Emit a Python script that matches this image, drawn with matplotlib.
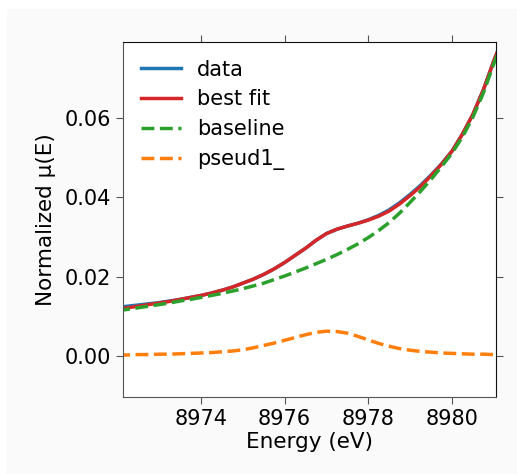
import matplotlib
matplotlib.use("Agg")
import matplotlib.pyplot as plt
from matplotlib.patches import Rectangle

# Energy grid (eV)
energy = [8972.00, 8972.25, 8972.50, 8972.75, 8973.00, 8973.25, 8973.50, 8973.75,
          8974.00, 8974.25, 8974.50, 8974.75, 8975.00, 8975.25, 8975.50, 8975.75,
          8976.00, 8976.25, 8976.50, 8976.75, 8977.00, 8977.25, 8977.50, 8977.75,
          8978.00, 8978.25, 8978.50, 8978.75, 8979.00, 8979.25, 8979.50, 8979.75,
          8980.00, 8980.25, 8980.50, 8980.75, 8981.00, 8981.25]

data = [0.0123, 0.0126, 0.0129, 0.0132, 0.0135, 0.0139, 0.0143, 0.0148,
        0.0153, 0.0159, 0.0166, 0.0174, 0.0184, 0.0194, 0.0206, 0.0220,
        0.0236, 0.0254, 0.0272, 0.0292, 0.0309, 0.0320, 0.0328, 0.0335,
        0.0344, 0.0355, 0.0369, 0.0387, 0.0408, 0.0431, 0.0457, 0.0485,
        0.0517, 0.0560, 0.0610, 0.0672, 0.0745, 0.0812]

best_fit = [0.0118, 0.0122, 0.0126, 0.0130, 0.0134, 0.0138, 0.0143, 0.0148,
            0.0153, 0.0159, 0.0166, 0.0174, 0.0184, 0.0194, 0.0206, 0.0220,
            0.0236, 0.0254, 0.0272, 0.0292, 0.0309, 0.0320, 0.0328, 0.0335,
            0.0343, 0.0353, 0.0366, 0.0384, 0.0405, 0.0428, 0.0455, 0.0484,
            0.0517, 0.0560, 0.0610, 0.0672, 0.0745, 0.0812]

baseline = [0.0114, 0.0118, 0.0122, 0.0126, 0.0130, 0.0134, 0.0139, 0.0143,
            0.0148, 0.0153, 0.0158, 0.0164, 0.0170, 0.0177, 0.0184, 0.0193,
            0.0202, 0.0212, 0.0222, 0.0233, 0.0244, 0.0256, 0.0269, 0.0283,
            0.0299, 0.0317, 0.0337, 0.0361, 0.0388, 0.0416, 0.0446, 0.0478,
            0.0512, 0.0553, 0.0603, 0.0664, 0.0738, 0.0805]

pseud1 = [0.0003, 0.0003, 0.0004, 0.0004, 0.0005, 0.0005, 0.0006, 0.0007,
          0.0008, 0.0009, 0.0011, 0.0013, 0.0016, 0.0021, 0.0027, 0.0033,
          0.0040, 0.0047, 0.0054, 0.0060, 0.0063, 0.0062, 0.0058, 0.0050,
          0.0041, 0.0032, 0.0025, 0.0019, 0.0015, 0.0012, 0.0010, 0.0008,
          0.0007, 0.0006, 0.0005, 0.0005, 0.0004, 0.0004]

x_ticks = [8974, 8976, 8978, 8980]
y_ticks = [0.00, 0.02, 0.04, 0.06]

fig = plt.figure(figsize=(5.17, 4.74), dpi=100, facecolor="white")
fig.patches.append(Rectangle((7 / 517, 0), 1 - 7 / 517, 1 - 9 / 474,
                             transform=fig.transFigure, facecolor="#fafafa",
                             edgecolor="none", zorder=-10))

ax = fig.add_axes([0.2379, 0.1624, 0.9594 - 0.2379, 0.9114 - 0.1624])
ax.set_facecolor("white")

lw = 2.5
ax.plot(energy, data, color="#1f77b4", lw=lw, label="data")
ax.plot(energy, best_fit, color="#d62728", lw=lw, label="best fit")
ax.plot(energy, baseline, color="#2ca02c", lw=lw, ls="--", label="baseline")
ax.plot(energy, pseud1, color="#ff7f0e", lw=lw, ls="--", label="pseud1_")

ax.set_xlim(8972.14, 8981.05)
ax.set_ylim(-0.0103, 0.0792)
ax.set_xticks(x_ticks)
ax.set_yticks(y_ticks)
ax.set_yticklabels([f"{v:.2f}" for v in y_ticks])

ax.tick_params(direction="out", length=5, width=0.8, labelsize=15,
               top=True, right=True, labeltop=False, labelright=False,
               color="#555555")
for side in ["top", "right"]:
    ax.spines[side].set_color("#111111")
for side in ["left", "bottom"]:
    ax.spines[side].set_color("#555555")

ax.set_xlabel("Energy (eV)", fontsize=15.5, labelpad=2)
ax.set_ylabel("Normalized μ(E)", fontsize=15.5, labelpad=6)

ax.legend(loc="upper left", frameon=False, fontsize=15, handlelength=1.95,
          labelspacing=0.47, borderaxespad=0.45, handletextpad=0.75)

fig.savefig("out.png", dpi=100, facecolor=fig.get_facecolor())
